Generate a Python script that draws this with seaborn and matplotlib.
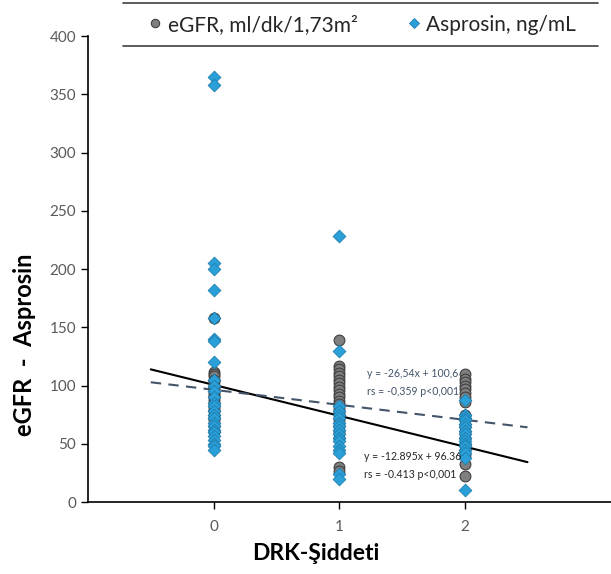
import numpy as np
import pandas as pd
import matplotlib
matplotlib.use("Agg")
import matplotlib.pyplot as plt
from matplotlib.lines import Line2D
import seaborn as sns

# ---- data ----
egfr_g0 = [158, 112, 110, 108, 105, 103, 100, 98, 96, 94, 92, 90, 88, 85, 82, 80, 78, 75, 72, 70, 65, 60]
asp_g0 = [365, 358, 205, 200, 182, 158, 140, 138, 120, 105, 100, 95, 90, 85, 82, 78, 75, 72, 68, 65,
          62, 60, 57, 53, 50, 48, 45]
egfr_g1 = [139, 117, 114, 111, 108, 105, 102, 99, 96, 93, 90, 87, 84, 80, 76, 70, 65, 60, 55, 30, 27]
asp_g1 = [228, 130, 82, 78, 75, 72, 68, 65, 62, 58, 55, 52, 48, 45, 42, 24, 20]
egfr_g2 = [110, 106, 103, 100, 97, 94, 90, 86, 75, 70, 65, 60, 55, 50, 45, 40, 33, 22]
asp_g2 = [88, 75, 72, 70, 67, 64, 61, 58, 55, 52, 50, 48, 45, 42, 38, 10]

x_ticks = [0, 1, 2]
y_ticks = [0, 50, 100, 150, 200, 250, 300, 350, 400]

# trend lines (slope, intercept) as drawn
solid_coef = (-26.54, 100.6)
dashed_coef = (-12.895, 96.36)
line_x = [-0.5, 2.5]

label_top = ["y = -26,54x + 100,6", "rs = -0,359 p<0,001"]
label_bot = ["y = -12.895x + 96.36", "rs = -0.413 p<0,001"]
legend_labels = ["eGFR, ml/dk/1,73m²", "Asprosin, ng/mL"]

# ---- build frames ----
def frame(groups):
    xs, ys = [], []
    for g, vals in zip(x_ticks, groups):
        xs += [g] * len(vals)
        ys += list(vals)
    return pd.DataFrame({"x": xs, "y": ys})

df_e = frame([egfr_g0, egfr_g1, egfr_g2])
df_a = frame([asp_g0, asp_g1, asp_g2])

sns.set_style("white")
plt.rcParams["font.family"] = ["Lato", "DejaVu Sans"]

fig = plt.figure(figsize=(6.11, 5.74), dpi=100)
ax = fig.add_axes([0.144, 0.1254, 0.856, 0.8118])

sns.scatterplot(data=df_e, x="x", y="y", marker="o", s=60, color="#7f7f7f",
                edgecolor="#3f3f3f", linewidth=0.8, ax=ax, zorder=3)
sns.scatterplot(data=df_a, x="x", y="y", marker="D", s=42, color="#2a9fd8",
                edgecolor="#1f7fb0", linewidth=0.6, ax=ax, zorder=4)

lx = np.array(line_x)
ax.plot(lx, solid_coef[0] * lx + solid_coef[1], color="black", lw=1.5, zorder=2)
ax.plot(lx, dashed_coef[0] * lx + dashed_coef[1], color="#44546a", lw=1.5,
        dashes=(5, 3.5), zorder=2)

ax.text(1.225, 110.5, label_top[0], color="#44546a", fontsize=7.6, va="center", ha="left", zorder=5)
ax.text(1.225, 95.0, label_top[1], color="#44546a", fontsize=7.6, va="center", ha="left", zorder=5)
ax.text(1.2, 39.5, label_bot[0], color="#262626", fontsize=7.6, va="center", ha="left", zorder=5)
ax.text(1.2, 24.0, label_bot[1], color="#262626", fontsize=7.6, va="center", ha="left", zorder=5)

ax.set_xlim(-1.0, 3.165)
ax.set_ylim(0, 400)
ax.set_xticks(x_ticks)
ax.set_yticks(y_ticks)
ax.tick_params(axis="both", direction="out", length=5, width=1, color="black",
               labelsize=11, labelcolor="#595959", left=True, bottom=True)
ax.tick_params(axis="x", pad=8)
for s in ["top", "right"]:
    ax.spines[s].set_visible(False)
for s in ["left", "bottom"]:
    ax.spines[s].set_color("black")
    ax.spines[s].set_linewidth(1.2)

ax.set_xlabel("DRK-Şiddeti", fontsize=16.5, fontweight="bold", color="black")
ax.xaxis.set_label_coords(0.436, -0.088)
ax.set_ylabel("eGFR  -  Asprosin", fontsize=17, fontweight="bold", color="black")
ax.yaxis.set_label_coords(-0.1, 0.337)

handles = [
    Line2D([], [], marker="o", ls="", markersize=6, markerfacecolor="#7f7f7f",
           markeredgecolor="#3f3f3f", markeredgewidth=0.8),
    Line2D([], [], marker="D", ls="", markersize=5.5, markerfacecolor="#2a9fd8",
           markeredgecolor="#1f7fb0", markeredgewidth=0.6),
]
fig.legend(handles, legend_labels, loc="center", bbox_to_anchor=(0.59, 0.957), ncol=2,
           frameon=False, fontsize=15, handletextpad=0.1, columnspacing=2.2,
           handlelength=1.0, labelcolor="#262626")
for yy in (0.995, 0.92):
    fig.add_artist(Line2D([0.202, 0.979], [yy, yy], transform=fig.transFigure,
                          color="#404040", lw=1.2))

fig.savefig("out.png", dpi=100)
